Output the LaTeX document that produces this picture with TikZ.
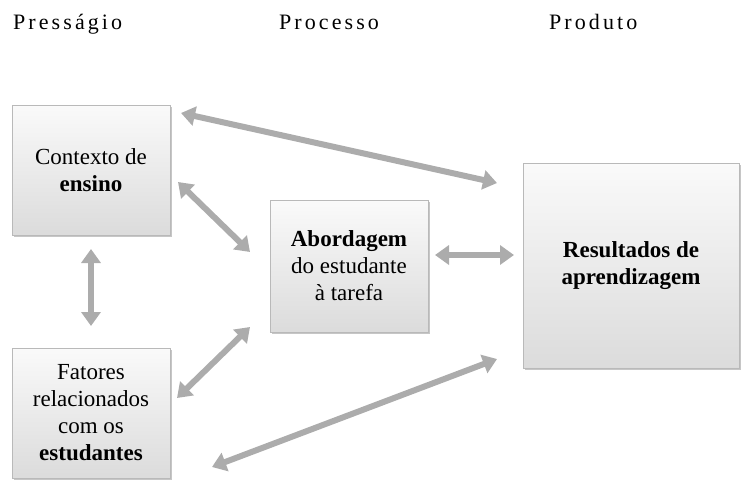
\documentclass[tikz,border=0pt]{standalone}
\usepackage{fontspec}
\setmainfont{Liberation Serif}
\newfontfamily\hdrfont[LetterSpace=14]{Liberation Serif}
\usetikzlibrary{arrows.meta,shadows}
\tikzset{
  box/.style={draw=gray!55, line width=0.6pt, top color=gray!4, bottom color=gray!28,
    drop shadow={opacity=0.45, shadow xshift=1.8pt, shadow yshift=-1.8pt},
    align=center, inner sep=2pt, font=\fontsize{23}{27}\selectfont},
  hdr/.style={anchor=base west, inner sep=0pt, font=\hdrfont\fontsize{22}{24}\selectfont},
  dbl/.style={draw=gray!65, line width=6pt, {Triangle[length=14pt,width=19pt]}-{Triangle[length=14pt,width=19pt]}}
}
\begin{document}
\begin{tikzpicture}[x=1pt,y=-1pt]
\useasboundingbox (0,0) rectangle (742,480);
\begin{scope}
\clip (0,0) rectangle (742,480);
\node[hdr] (h1) at (13,29) {Presságio};
\node[hdr] (h2) at (279,29) {Processo};
\node[hdr] (h3) at (549,29) {Produto};

\node[box, minimum width=158pt, minimum height=130pt] (ctx) at (91,170) {Contexto de\\\textbf{ensino}};
\node[box, minimum width=158pt, minimum height=130pt] (fat) at (91,413) {Fatores\\relacionados\\com os\\\textbf{estudantes}};
\node[box, minimum width=158pt, minimum height=132pt] (abd) at (349,266) {\textbf{Abordagem}\\do estudante\\à tarefa};
\node[box, minimum width=216pt, minimum height=205pt] (res) at (631,265.5) {\textbf{Resultados de}\\\textbf{aprendizagem}};

\coordinate (a1) at (181,113);
\coordinate (b1) at (497,183);
\coordinate (a2) at (178,182);
\coordinate (b2) at (250,252);
\coordinate (a3) at (91,249);
\coordinate (b3) at (91,326);
\coordinate (a4) at (177,398);
\coordinate (b4) at (250,327);
\coordinate (a5) at (435,255);
\coordinate (b5) at (514,255);
\coordinate (a6) at (212,467);
\coordinate (b6) at (497,359);

\draw[dbl] (a1) -- (b1);
\draw[dbl] (a2) -- (b2);
\draw[dbl] (a3) -- (b3);
\draw[dbl] (a4) -- (b4);
\draw[dbl] (a5) -- (b5);
\draw[dbl] (a6) -- (b6);
\end{scope}
\end{tikzpicture}
\end{document}
